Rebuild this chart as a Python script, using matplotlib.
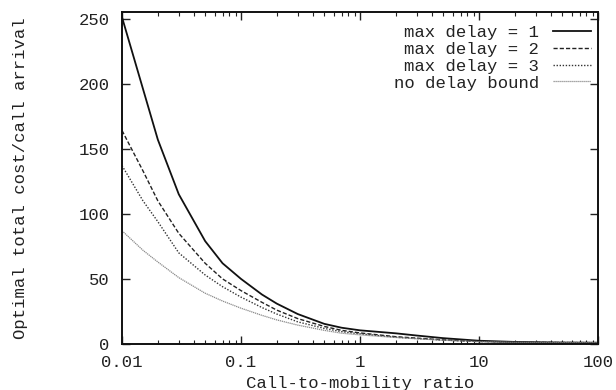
import matplotlib
matplotlib.use("Agg")
import matplotlib.pyplot as plt
from matplotlib.ticker import LogLocator, FixedLocator, NullFormatter

# ======= Data =======
ratio = [0.01, 0.015, 0.02, 0.03, 0.05, 0.07, 0.1, 0.15, 0.2, 0.3,
         0.5, 0.7, 1, 2, 3, 5, 10, 20, 50, 100]

delay1 = [251, 196, 157, 115, 79, 62, 50, 38, 31, 23,
          15.5, 12.5, 10.5, 8.2, 6.5, 4.5, 2.5, 1.6, 1.1, 1.0]
delay2 = [164, 133, 110, 85, 62, 50, 41, 32, 26, 19.5,
          13.5, 10.5, 8.5, 5.6, 4.5, 3.2, 2.0, 1.4, 1.1, 1.0]
delay3 = [137, 110, 94, 70, 53, 44, 36, 28, 23, 17,
          12, 9.5, 7.8, 5.2, 4.2, 3.0, 1.9, 1.3, 1.1, 1.0]
no_bound = [87, 72, 63, 51, 39, 33, 27.5, 22, 18.5, 14.5,
            10.5, 8.3, 7.0, 5.0, 4.0, 2.9, 1.8, 1.3, 1.1, 1.0]

labels = ["max delay = 1", "max delay = 2", "max delay = 3", "no delay bound"]
x_ticks = [0.01, 0.1, 1, 10, 100]
x_ticklabels = ["0.01", "0.1", "1", "10", "100"]
y_ticks = [0, 50, 100, 150, 200, 250]

# ======= Plot =======
plt.rcParams["font.family"] = ["Liberation Mono", "DejaVu Sans Mono"]
plt.rcParams["font.size"] = 12.4

fig = plt.figure(figsize=(6.16, 3.9), dpi=100)
ax = fig.add_axes([122 / 616, 46 / 390, 476 / 616, 332 / 390])

ax.plot(ratio, delay1, color="#111111", lw=1.3, ls="-", label=labels[0])
ax.plot(ratio, delay2, color="#222222", lw=1.0, ls=(0, (3, 1.5)), label=labels[1])
ax.plot(ratio, delay3, color="#333333", lw=1.0, ls=(0, (1, 1.2)), label=labels[2])
ax.plot(ratio, no_bound, color="#8a8a8a", lw=0.9, ls=(0, (1, 0.6)), label=labels[3])

ax.set_xscale("log")
ax.set_xlim(0.01, 100)
ax.set_ylim(0, 255)

ax.xaxis.set_major_locator(FixedLocator(x_ticks))
ax.set_xticklabels(x_ticklabels)
ax.xaxis.set_minor_locator(LogLocator(base=10, subs=range(2, 10), numticks=20))
ax.xaxis.set_minor_formatter(NullFormatter())
ax.set_yticks(y_ticks)

ax.tick_params(which="major", direction="in", length=6, width=1.0,
               top=True, right=True, color="#222222", labelcolor="#222222")
ax.tick_params(axis="x", which="major", pad=8)
ax.tick_params(axis="y", which="major", pad=9)
ax.tick_params(which="minor", direction="in", length=3, width=0.8,
               top=True, right=True, color="#222222")

for sp in ax.spines.values():
    sp.set_linewidth(1.4)
    sp.set_color("#111111")

ax.set_xlabel("Call-to-mobility ratio", color="#222222", labelpad=4)
ax.set_ylabel("Optimal total cost/call arrival", color="#222222", labelpad=36)

leg = ax.legend(loc="upper right", bbox_to_anchor=(0.985, 0.962), frameon=False,
                markerfirst=False, handlelength=2.2, handletextpad=0.8,
                labelspacing=0.11, borderpad=0, borderaxespad=0)
for t in leg.get_texts():
    t.set_color("#222222")

fig.savefig("out.png", dpi=100)
